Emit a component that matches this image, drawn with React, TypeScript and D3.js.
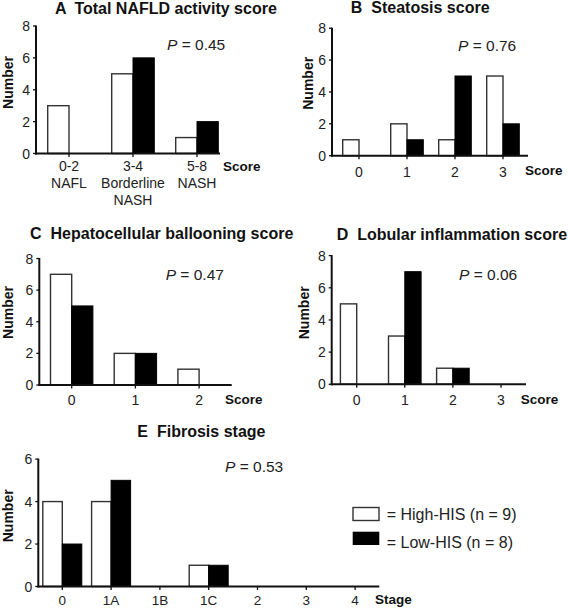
import React from "react";
import * as d3 from "d3";

// ---- data ----
const catsA = ["0-2\nNAFL", "3-4\nBorderline\nNASH", "5-8\nNASH"];
const highA = [3, 5, 1];
const lowA = [0, 6, 2];

const catsB = ["0", "1", "2", "3"];
const highB = [1, 2, 1, 5];
const lowB = [0, 1, 5, 2];

const catsC = ["0", "1", "2"];
const highC = [7, 2, 1];
const lowC = [5, 2, 0];

const catsD = ["0", "1", "2", "3"];
const highD = [5, 3, 1, 0];
const lowD = [0, 7, 1, 0];

const catsE = ["0", "1A", "1B", "1C", "2", "3", "4"];
const highE = [4, 4, 0, 1, 0, 0, 0];
const lowE = [2, 5, 0, 1, 0, 0, 0];

const yTicks8 = [0, 2, 4, 6, 8];
const yTicks6 = [0, 2, 4, 6];

const legendLabels = ["= High-HIS (n = 9)", "= Low-HIS (n = 8)"];

// ---- layout ----
const FONT = "'Liberation Sans', Arial, Helvetica, sans-serif";

type PanelCfg = {
  letter: string;
  title: string;
  titleX: number;
  titleY: number;
  pText: string;
  pX: number;
  pY: number;
  cats: string[];
  high: number[];
  low: number[];
  yTicks: number[];
  yMax: number;
  axisX: number;
  axisEnd: number;
  firstTick: number;
  step: number;
  y0: number;
  yTop: number;
  bw: number;
  numX: number;
  numY: number;
  xLabelY: number;
  xLabelSize: number;
  xTitle: string;
  xTitleX: number;
  xTitleY: number;
};

const panels: PanelCfg[] = [
  {
    letter: "A", title: "Total NAFLD activity score", titleX: 55, titleY: 8.5,
    pText: "0.45", pX: 167, pY: 44,
    cats: catsA, high: highA, low: lowA, yTicks: yTicks8, yMax: 8,
    axisX: 36, axisEnd: 220, firstTick: 69, step: 64, y0: 153.5, yTop: 26, bw: 21.3,
    numX: 7.5, numY: 82.5, xLabelY: 166, xLabelSize: 14, xTitle: "Score", xTitleX: 223, xTitleY: 166,
  },
  {
    letter: "B", title: "Steatosis score", titleX: 350.7, titleY: 7.5,
    pText: "0.76", pX: 458, pY: 45,
    cats: catsB, high: highB, low: lowB, yTicks: yTicks8, yMax: 8,
    axisX: 332, axisEnd: 528, firstTick: 359, step: 48, y0: 155.7, yTop: 28.2, bw: 16.3,
    numX: 308, numY: 83.3, xLabelY: 172, xLabelSize: 14, xTitle: "Score", xTitleX: 525, xTitleY: 170.5,
  },
  {
    letter: "C", title: "Hepatocellular ballooning score", titleX: 30, titleY: 233,
    pText: "0.47", pX: 165.7, pY: 274,
    cats: catsC, high: highC, low: lowC, yTicks: yTicks8, yMax: 8,
    axisX: 39.3, axisEnd: 231.7, firstTick: 71.7, step: 63.7, y0: 385, yTop: 258.5, bw: 21.2,
    numX: 7.5, numY: 312.5, xLabelY: 400, xLabelSize: 14, xTitle: "Score", xTitleX: 225, xTitleY: 399,
  },
  {
    letter: "D", title: "Lobular inflammation score", titleX: 336.7, titleY: 234,
    pText: "0.06", pX: 459, pY: 274,
    cats: catsD, high: highD, low: lowD, yTicks: yTicks8, yMax: 8,
    axisX: 331.7, axisEnd: 526, firstTick: 356.7, step: 48.1, y0: 384.3, yTop: 255.6, bw: 16.3,
    numX: 304, numY: 312.8, xLabelY: 400, xLabelSize: 14, xTitle: "Score", xTitleX: 520.7, xTitleY: 399,
  },
  {
    letter: "E", title: "Fibrosis stage", titleX: 137.3, titleY: 431.7,
    pText: "0.53", pX: 225, pY: 466.7,
    cats: catsE, high: highE, low: lowE, yTicks: yTicks6, yMax: 6,
    axisX: 38.3, axisEnd: 379.3, firstTick: 62.3, step: 48.8, y0: 586.5, yTop: 459.1, bw: 19.5,
    numX: 7.5, numY: 515.8, xLabelY: 600.3, xLabelSize: 13.5, xTitle: "Stage", xTitleX: 375, xTitleY: 599.3,
  },
];

const INK = "#111";
const BAR_STROKE = "#333";

function Panel({ p }: { p: PanelCfg }) {
  const lo = (p.axisX - p.firstTick) / p.step;
  const hi = (p.axisEnd - p.firstTick) / p.step;
  const x = d3.scaleLinear().domain([lo, hi]).range([p.axisX, p.axisEnd]);
  const y = d3.scaleLinear().domain([0, p.yMax]).range([p.y0, p.yTop]);
  const idx = d3.range(p.cats.length);

  return (
    <g>
      <text x={p.titleX} y={p.titleY} dy="0.36em" fontFamily={FONT} fontWeight="bold" fontSize={16} fill={INK}>
        <tspan>{p.letter}</tspan>
        <tspan dx={9}>{p.title}</tspan>
      </text>
      {/* bars */}
      {idx.map((i) =>
        p.high[i] > 0 ? (
          <rect key={"h" + i} x={x(i) - p.bw} y={y(p.high[i])} width={p.bw} height={y(0) - y(p.high[i])}
            fill="#fff" stroke={BAR_STROKE} strokeWidth={1.4} />
        ) : null
      )}
      {idx.map((i) =>
        p.low[i] > 0 ? (
          <rect key={"l" + i} x={x(i)} y={y(p.low[i])} width={p.bw} height={y(0) - y(p.low[i])}
            fill="#000" stroke="#000" strokeWidth={1} />
        ) : null
      )}
      {/* y axis */}
      <line x1={p.axisX} x2={p.axisX} y1={p.y0 + 1} y2={y(p.yMax) - 0.5} stroke={INK} strokeWidth={2} />
      {p.yTicks.map((t) => (
        <g key={"yt" + t}>
          <line x1={p.axisX - 3} x2={p.axisX} y1={y(t)} y2={y(t)} stroke={INK} strokeWidth={1.3} />
          <text x={p.axisX - 6} y={y(t)} dy="0.36em" textAnchor="end" fontFamily={FONT} fontSize={14} fill="#222">
            {t}
          </text>
        </g>
      ))}
      {/* x axis */}
      <line x1={p.axisX - 1} x2={p.axisEnd} y1={p.y0} y2={p.y0} stroke={INK} strokeWidth={2} />
      {idx.map((i) => (
        <line key={"xt" + i} x1={x(i)} x2={x(i)} y1={p.y0} y2={p.y0 + 3.5} stroke={INK} strokeWidth={1.3} />
      ))}
      {idx.map((i) => (
        <text key={"xl" + i} x={x(i)} y={p.xLabelY} textAnchor="middle" fontFamily={FONT} fontSize={p.xLabelSize} fill="#222">
          {p.cats[i].split("\n").map((line, k) => (
            <tspan key={k} x={x(i)} dy={k === 0 ? "0.36em" : 17}>
              {line}
            </tspan>
          ))}
        </text>
      ))}
      <text x={p.xTitleX} y={p.xTitleY} dy="0.36em" fontFamily={FONT} fontWeight="bold" fontSize={13.5} fill={INK}>
        {p.xTitle}
      </text>
      {/* y title */}
      <text transform={`translate(${p.numX},${p.numY}) rotate(-90)`} dy="0.36em" textAnchor="middle"
        fontFamily={FONT} fontWeight="bold" fontSize={14} fill={INK}>
        Number
      </text>
      {/* P value */}
      <text x={p.pX} y={p.pY} dy="0.36em" fontFamily={FONT} fontSize={15.5} fill="#222">
        <tspan fontStyle="italic">P</tspan> = {p.pText}
      </text>
    </g>
  );
}

export default function App() {
  return (
    <svg width={568} height={609} style={{ position: "absolute", left: 0, top: 0, background: "#fff" }}>
      <rect x={0} y={0} width={568} height={609} fill="#fff" />
      {panels.map((p, i) => (
        <Panel key={i} p={p} />
      ))}
      {/* legend */}
      <rect x={353} y={507.5} width={26} height={13} fill="#fff" stroke={BAR_STROKE} strokeWidth={1.4} />
      <rect x={352.7} y={531.7} width={26.6} height={13.3} fill="#000" />
      <text x={386.7} y={514.3} dy="0.36em" fontFamily={FONT} fontSize={16} fill="#222">
        {legendLabels[0]}
      </text>
      <text x={386.7} y={542.7} dy="0.36em" fontFamily={FONT} fontSize={16} fill="#222">
        {legendLabels[1]}
      </text>
    </svg>
  );
}
